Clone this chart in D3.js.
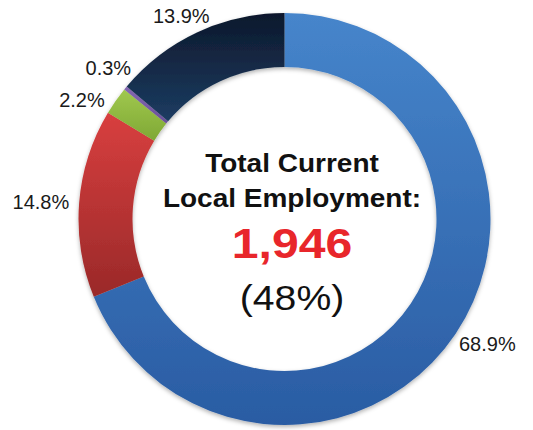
<!DOCTYPE html>
<html>
<head>
<meta charset="utf-8">
<script src="https://cdn.jsdelivr.net/npm/d3@7"></script>
<style>
  html, body { margin: 0; padding: 0; background: #ffffff; }
  svg { display: block; }
</style>
</head>
<body>
<div id="chart"></div>
<script>
// ---- data ----
const categories = ["Segment A", "Segment B", "Segment C", "Segment D", "Segment E"];
const values = [68.9, 14.8, 2.2, 0.3, 13.9];
const valueLabels = ["68.9%", "14.8%", "2.2%", "0.3%", "13.9%"];
const centerLines = ["Total Current", "Local Employment:"];
const centerValue = "1,946";
const centerShare = "(48%)";
// gradient colours per slice: [top, bottom]
const sliceColors = [
  ["#4685cb", "#2a5ca3"],
  ["#d83f3f", "#9a2929"],
  ["#a0c84e", "#7fa835"],
  ["#8468b2", "#6a4f98"],
  ["#0d182c", "#1c3c62"]
];

const W = 533, H = 430;
const cx = 284.5, cy = 219;
const outerR = 206, innerR = 152;

const svg = d3.select("#chart").append("svg")
  .attr("width", W).attr("height", H)
  .attr("font-family", "'Liberation Sans', Arial, sans-serif");

const defs = svg.append("defs");
const filt = defs.append("filter").attr("id", "shadow")
  .attr("x", "-10%").attr("y", "-10%").attr("width", "120%").attr("height", "120%");
filt.append("feDropShadow").attr("dx", 0).attr("dy", 2).attr("stdDeviation", 2)
  .attr("flood-color", "#000").attr("flood-opacity", 0.3);

sliceColors.forEach((c, i) => {
  const g = defs.append("linearGradient").attr("id", "grad" + i)
    .attr("x1", 0).attr("y1", 0).attr("x2", 0).attr("y2", 1);
  g.append("stop").attr("offset", "0%").attr("stop-color", c[0]);
  g.append("stop").attr("offset", "100%").attr("stop-color", c[1]);
});

const pie = d3.pie().sort(null).value(d => d)
  .startAngle(0).endAngle(2 * Math.PI);
const arcs = pie(values);
const arc = d3.arc().innerRadius(innerR).outerRadius(outerR);

const g = svg.append("g").attr("transform", `translate(${cx},${cy})`);

g.append("g").attr("filter", "url(#shadow)")
  .selectAll("path").data(arcs).join("path")
  .attr("d", arc)
  .attr("fill", (d, i) => `url(#grad${i})`);

// outside-end labels with simple collision avoidance
const labelR = outerR + 10;
const lab = g.append("g").attr("font-size", 20).attr("fill", "#1a1a1a");
const h = 16, gap = 16;
const items = arcs.map((d, i) => {
  const t = lab.append("text")
    .attr("text-anchor", "middle")
    .attr("dominant-baseline", "central")
    .text(valueLabels[i]);
  return { t, a: (d.startAngle + d.endAngle) / 2, w: t.node().getComputedTextLength() };
});
function place(it) {
  const px = labelR * Math.sin(it.a), py = -labelR * Math.cos(it.a);
  it.x = px + (it.w / 2) * Math.sin(it.a);
  it.y = py - (h / 2) * Math.cos(it.a);
}
items.forEach(place);
function overlap(p, q) {
  return Math.abs(p.x - q.x) < (p.w + q.w) / 2 + 2 && Math.abs(p.y - q.y) < h + gap;
}
const sorted = items.slice().sort((p, q) => p.a - q.a);
for (let iter = 0; iter < 400; iter++) {
  let moved = false;
  for (let k = 0; k < sorted.length - 1; k++) {
    const p = sorted[k], q = sorted[k + 1];
    if (overlap(p, q)) {
      p.a -= 0.004; q.a += 0.004;
      place(p); place(q);
      moved = true;
    }
  }
  if (!moved) break;
}
items.forEach(it => it.t.attr("x", it.x).attr("y", it.y));

// center text (horizontally stretched like the original)
const tx = 292;
const ct = svg.append("g").attr("transform", `translate(${tx},0) scale(1.12,1)`);
ct.append("text").attr("x", 0).attr("y", 172).attr("text-anchor", "middle")
  .attr("font-size", 25).attr("font-weight", "bold").attr("fill", "#111")
  .text(centerLines[0]);
ct.append("text").attr("x", 0).attr("y", 207).attr("text-anchor", "middle")
  .attr("font-size", 25).attr("font-weight", "bold").attr("fill", "#111")
  .text(centerLines[1]);
ct.append("text").attr("x", 0).attr("y", 258).attr("text-anchor", "middle")
  .attr("font-size", 43).attr("font-weight", "bold").attr("fill", "#e8262b")
  .text(centerValue);
ct.append("text").attr("x", 0).attr("y", 310).attr("text-anchor", "middle")
  .attr("font-size", 35).attr("fill", "#111")
  .text(centerShare);
</script>
</body>
</html>
